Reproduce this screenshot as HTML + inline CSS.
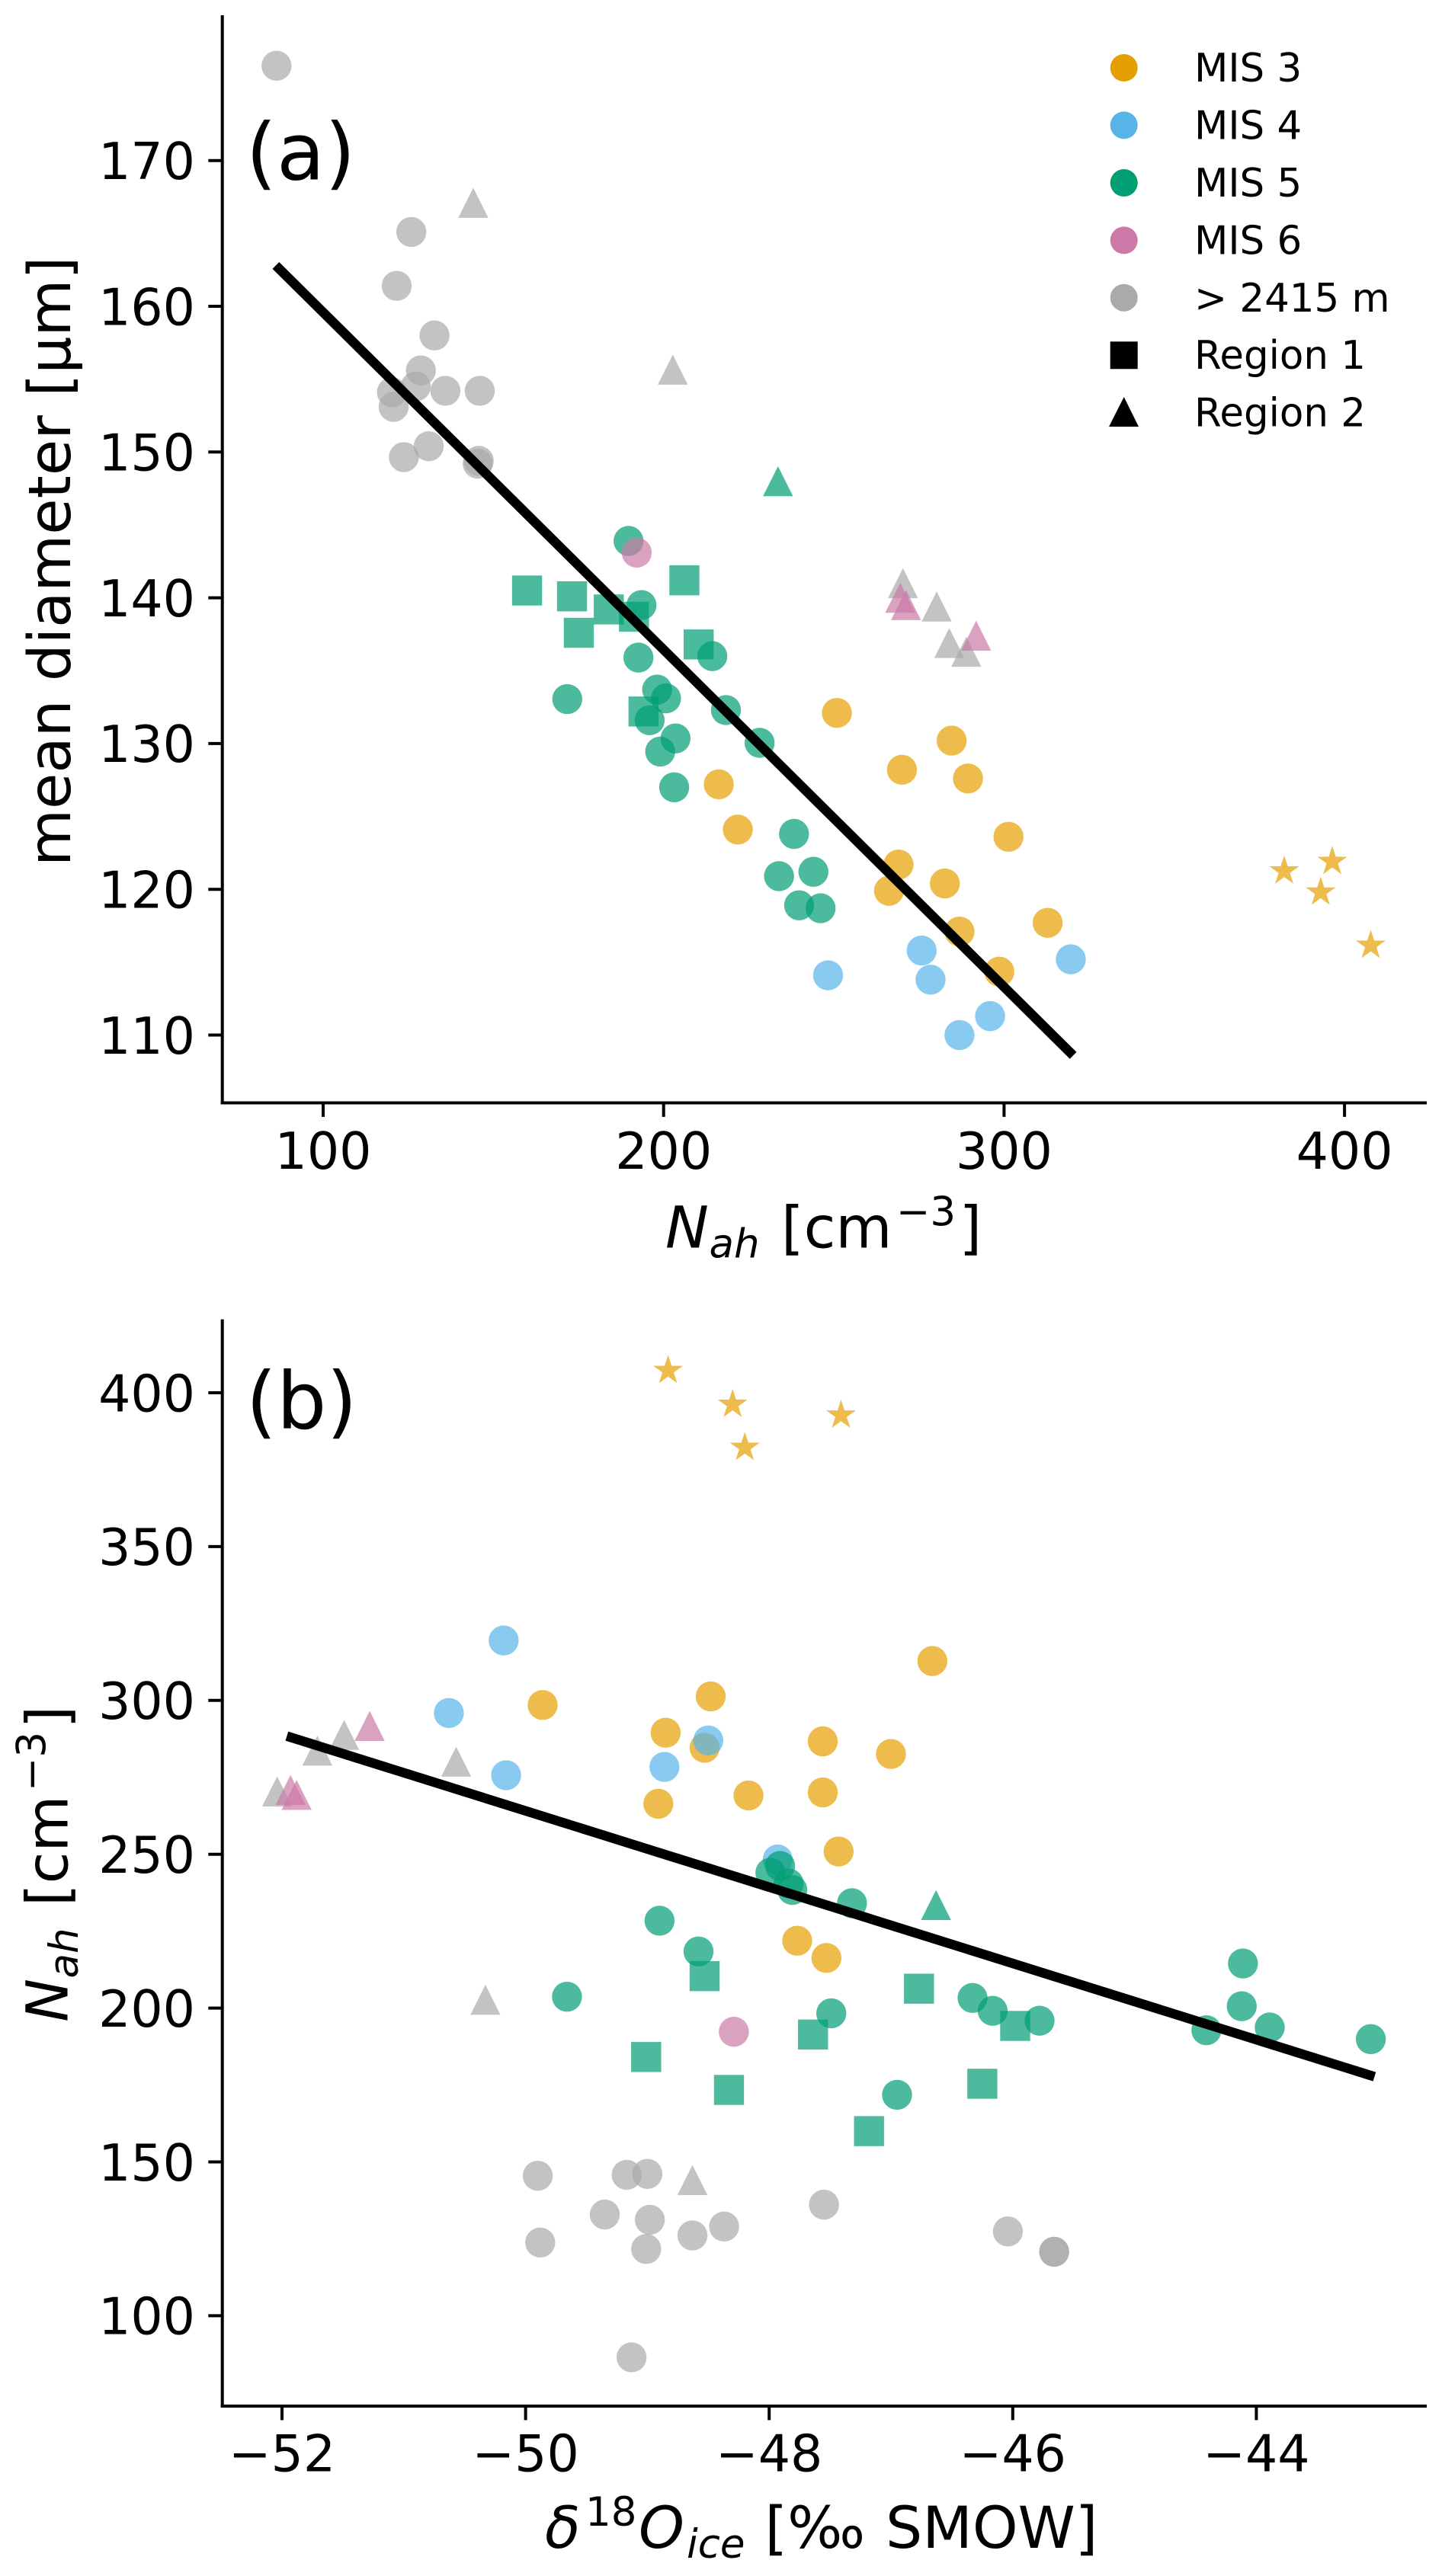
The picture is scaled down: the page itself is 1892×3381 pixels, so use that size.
<!DOCTYPE html>
<html lang="en">
<head>
<meta charset="utf-8">
<title>Mean diameter and Nah scatter plots</title>
<style>
html,body{margin:0;padding:0;background:#fff;}
svg{display:block;}
text{font-family:"DejaVu Sans","Liberation Sans",sans-serif;fill:#000;}
.it{font-style:italic;}
</style>
</head>
<body>
<svg id="figure" xmlns="http://www.w3.org/2000/svg" width="1892" height="3381" viewBox="0 0 1892 3381">
  <rect width="1892" height="3381" fill="#fff"/>
  <g id="panel-a"></g>
  <g id="panel-b"></g>

  <text x="322.8" y="235.5" font-size="103">(a)</text>
  <text x="322.8" y="1874.5" font-size="103">(b)</text>

  <text font-size="77" transform="translate(92,1137) rotate(-90)" x="0" y="0">mean diameter [µm]</text>

  <g font-size="76">
    <text class="it" x="873" y="1637.3">N</text>
    <text class="it" x="930.5" y="1650.7" font-size="53">ah</text>
    <text x="1025" y="1637.3">[cm</text>
    <text x="1176" y="1608.3" font-size="53">−3</text>
    <text x="1258.5" y="1637.3">]</text>
  </g>

  <g font-size="76" transform="translate(88.5,2652) rotate(-90)">
    <text class="it" x="-1.7" y="0">N</text>
    <text class="it" x="55.5" y="13.4" font-size="53">ah</text>
    <text x="150" y="0">[cm</text>
    <text x="301" y="-29" font-size="53">−3</text>
    <text x="383.5" y="0">]</text>
  </g>

  <g font-size="76">
    <text class="it" x="715" y="3344">δ</text>
    <text x="768" y="3315" font-size="53">18</text>
    <text class="it" x="838" y="3344">O</text>
    <text class="it" x="901" y="3357" font-size="53">ice</text>
    <text x="1003.5" y="3344">[‰</text>
    <text x="1162" y="3344">SMOW]</text>
  </g>

  <g font-size="51.4">
    <g><circle cx="1474.7" cy="89" r="18" fill="#E69F00"/><text x="1567" y="107">MIS 3</text></g>
    <g><circle cx="1474.7" cy="164.4" r="18" fill="#56B4E9"/><text x="1567" y="182.4">MIS 4</text></g>
    <g><circle cx="1474.7" cy="240" r="18" fill="#009E73"/><text x="1567" y="258">MIS 5</text></g>
    <g><circle cx="1474.7" cy="315.4" r="18" fill="#CC79A7"/><text x="1567" y="333.4">MIS 6</text></g>
    <g><circle cx="1474.7" cy="390.7" r="18" fill="#AAAAAA"/><text x="1567" y="409">&gt; 2415 m</text></g>
    <g><rect x="1456.7" y="448.3" width="36" height="36" fill="#000"/><text x="1567" y="484">Region 1</text></g>
    <g><path d="M1474.7 521 L1494 560 L1455 560 Z" fill="#000"/><text x="1567" y="559.3">Region 2</text></g>
  </g>
</svg>

<script>
// ---- tick values ----
const aXTicks = [100, 200, 300, 400];
const aYTicks = [110, 120, 130, 140, 150, 160, 170];
const bXTicks = [-52, -50, -48, -46, -44];
const bYTicks = [100, 150, 200, 250, 300, 350, 400];

// ---- panel (a): [Nah, mean diameter] ----
const aMis3Circles = [[216.2,127.2],[221.8,124.1],[250.9,132.1],[284.6,130.2],[270.0,128.2],[289.4,127.6],[301.3,123.6],[269.0,121.7],[282.6,120.4],[266.2,119.9],[286.9,117.1],[312.8,117.7],[298.6,114.35]];
const aMis3Stars = [[382.3,121.25],[396.4,121.9],[393.0,119.8],[407.7,116.15]];
const aMis4Circles = [[319.6,115.2],[275.8,115.8],[248.3,114.1],[278.4,113.8],[295.9,111.3],[286.9,110.0]];
const aMis5Circles = [[193.5,139.5],[189.7,143.9],[192.6,135.9],[214.3,136.0],[198.1,133.7],[200.7,133.1],[171.7,133.05],[218.3,132.3],[195.9,131.6],[203.5,130.35],[199.0,129.45],[228.2,130.05],[203.1,127.0],[238.3,123.8],[244.0,121.2],[233.9,120.9],[239.8,118.9],[246.1,118.7]];
const aMis5Squares = [[159.9,140.5],[173.1,140.1],[183.9,139.2],[191.3,138.7],[175.1,137.6],[206.1,141.2],[210.3,136.8],[194.1,132.2]];
const aMis5Triangles = [[233.6,148.0]];
const aMis6Circles = [[192.1,143.1]];
const aMis6Triangles = [[269.5,140.0],[271.2,139.5],[291.8,137.4]];
const aDeepCircles = [[86.3,176.5],[125.9,165.1],[121.6,161.4],[132.7,158.0],[128.7,155.6],[127.2,154.5],[120.2,154.1],[135.9,154.2],[146.0,154.2],[120.7,153.1],[131.0,150.4],[123.7,149.65],[145.7,149.4],[145.4,149.2]];
const aDeepTriangles = [[144.1,167.1],[202.7,155.65],[270.3,141.0],[280.2,139.4],[283.9,136.9],[288.9,136.3]];
const aFitLine = [[86.1,162.8],[320.3,108.6]];

// ---- panel (b): [delta18O, Nah] ----
const bMis3Circles = [[-49.86,298.5],[-48.85,289.5],[-48.48,301.3],[-48.53,284.6],[-48.91,266.4],[-48.17,269.1],[-47.56,286.7],[-47.0,282.6],[-46.66,312.8],[-47.56,270.1],[-47.43,250.9],[-47.77,221.9],[-47.53,216.3]];
const bMis3Stars = [[-48.83,407.2],[-48.30,396.2],[-48.2,382.2],[-47.41,392.7]];
const bMis4Circles = [[-50.18,319.5],[-50.63,295.9],[-50.16,275.7],[-48.86,278.4],[-48.50,287.0],[-47.93,248.3]];
const bMis5Circles = [[-48.9,228.4],[-48.58,218.4],[-47.99,244.0],[-47.91,246.2],[-47.84,240.5],[-47.81,238.4],[-47.32,234.1],[-44.11,214.5],[-49.66,203.7],[-46.33,203.3],[-46.165,199.1],[-45.78,195.9],[-47.49,198.3],[-46.95,171.8],[-44.12,200.6],[-44.41,192.8],[-43.89,193.7],[-43.06,189.9]];
const bMis5Squares = [[-48.53,210.4],[-49.01,184.1],[-48.33,173.4],[-46.77,206.3],[-45.98,194.2],[-47.64,191.4],[-46.25,175.4],[-47.18,160.0]];
const bMis5Triangles = [[-46.63,233.5]];
const bMis6Circles = [[-48.29,192.3]];
const bMis6Triangles = [[-51.93,270.9],[-51.88,269.3],[-51.28,291.7]];
const bDeepCircles = [[-49.9,145.5],[-49.17,145.8],[-49.0,146.1],[-49.35,132.9],[-48.98,131.2],[-48.37,129.0],[-48.63,126.1],[-49.01,121.7],[-49.88,123.8],[-49.13,86.5],[-47.55,136.1],[-46.04,127.4],[-45.66,120.8],[-45.66,120.8]];
const bDeepTriangles = [[-52.04,270.4],[-51.71,283.7],[-51.49,288.8],[-50.57,280.1],[-50.33,202.7],[-48.63,144.1]];
const bFitLine = [[-51.96,288.4],[-43.03,177.7]];

// ---- axis functions ----
const xA = v => 424 + (v - 100) * 4.467;
const yA = v => 210.7 + (170 - v) * 19.13;
const xB = v => 370 + (v + 52) * 159.8;
const yB = v => 1828 + (400 - v) * 4.038;

const SVG_NS = 'http://www.w3.org/2000/svg';
const C_MIS3 = '#E69F00', C_MIS4 = '#56B4E9', C_MIS5 = '#009E73', C_MIS6 = '#CC79A7', C_DEEP = '#A9A9A9';
const R = 19.7;

function starPath(cx, cy, r) {
  const pts = [];
  for (let i = 0; i < 10; i++) {
    const rad = i % 2 === 0 ? r : r * 0.381966;
    const a = -Math.PI / 2 + i * Math.PI / 5;
    pts.push((cx + rad * Math.cos(a)).toFixed(2) + ' ' + (cy + rad * Math.sin(a)).toFixed(2));
  }
  return 'M' + pts.join(' L') + ' Z';
}

function drawSeries(parent, points, shape, color, name, xf, yf) {
  points.forEach(function (p) {
    const cx = xf(p[0]);
    const cy = yf(p[1]);
    let el;
    if (shape === 'circle') {
      el = document.createElementNS(SVG_NS, 'circle');
      el.setAttribute('cx', cx);
      el.setAttribute('cy', cy);
      el.setAttribute('r', R);
    } else if (shape === 'square') {
      el = document.createElementNS(SVG_NS, 'rect');
      el.setAttribute('x', cx - R);
      el.setAttribute('y', cy - R);
      el.setAttribute('width', 2 * R);
      el.setAttribute('height', 2 * R);
    } else if (shape === 'triangle') {
      el = document.createElementNS(SVG_NS, 'path');
      el.setAttribute('d', 'M' + cx + ' ' + (cy - R) + ' L' + (cx + R) + ' ' + (cy + R) + ' L' + (cx - R) + ' ' + (cy + R) + ' Z');
    } else {
      el = document.createElementNS(SVG_NS, 'path');
      el.setAttribute('d', starPath(cx, cy, 20.5));
    }
    el.setAttribute('fill', color);
    el.setAttribute('fill-opacity', '0.7');
    
    
    parent.appendChild(el);
  });
}

function drawLine(parent, x1, y1, x2, y2, width, name) {
  const ln = document.createElementNS(SVG_NS, 'line');
  ln.setAttribute('x1', x1);
  ln.setAttribute('y1', y1);
  ln.setAttribute('x2', x2);
  ln.setAttribute('y2', y2);
  ln.setAttribute('stroke', '#000');
  ln.setAttribute('stroke-width', width);
  
  
  parent.appendChild(ln);
}

function drawLabel(parent, x, y, str, anchor, name) {
  const t = document.createElementNS(SVG_NS, 'text');
  t.setAttribute('x', x);
  t.setAttribute('y', y);
  t.setAttribute('font-size', '66.5');
  t.setAttribute('text-anchor', anchor);
  t.textContent = str;
  
  
  parent.appendChild(t);
}

function drawAxes(parent, cfg) {
  drawLine(parent, cfg.left, cfg.top, cfg.left, cfg.bottom + 2, 4, 'y-axis-spine');
  drawLine(parent, cfg.left - 2, cfg.bottom, cfg.right, cfg.bottom, 4, 'x-axis-spine');
  cfg.xTicks.forEach(function (v) {
    drawLine(parent, cfg.xf(v), cfg.bottom, cfg.xf(v), cfg.bottom + 18.4, 4, 'x-tick');
    drawLabel(parent, cfg.xf(v), cfg.xBase, String(v).replace('-', '\u2212'), 'middle', 'x-tick-label');
  });
  cfg.yTicks.forEach(function (v) {
    drawLine(parent, cfg.left - 18.4, cfg.yf(v), cfg.left, cfg.yf(v), 4, 'y-tick');
    drawLabel(parent, 256, cfg.yf(v) + 24.3, String(v), 'end', 'y-tick-label');
  });
}

const gA = document.getElementById('panel-a');
const gB = document.getElementById('panel-b');

drawSeries(gA, aMis3Circles, 'circle', C_MIS3, 'mis3-point', xA, yA);
drawSeries(gA, aMis3Stars, 'star', C_MIS3, 'mis3-star', xA, yA);
drawSeries(gA, aMis4Circles, 'circle', C_MIS4, 'mis4-point', xA, yA);
drawSeries(gA, aMis5Circles, 'circle', C_MIS5, 'mis5-point', xA, yA);
drawSeries(gA, aMis5Squares, 'square', C_MIS5, 'mis5-region1-point', xA, yA);
drawSeries(gA, aMis5Triangles, 'triangle', C_MIS5, 'mis5-region2-point', xA, yA);
drawSeries(gA, aDeepCircles, 'circle', C_DEEP, 'deep-point', xA, yA);
drawSeries(gA, aDeepTriangles, 'triangle', C_DEEP, 'deep-region2-point', xA, yA);
drawSeries(gA, aMis6Circles, 'circle', C_MIS6, 'mis6-point', xA, yA);
drawSeries(gA, aMis6Triangles, 'triangle', C_MIS6, 'mis6-region2-point', xA, yA);
drawLine(gA, xA(aFitLine[0][0]), yA(aFitLine[0][1]), xA(aFitLine[1][0]), yA(aFitLine[1][1]), 12.5, 'regression-line-a');
drawAxes(gA, {left: 291.7, right: 1872, top: 20, bottom: 1447.5, xBase: 1534, xTicks: aXTicks, yTicks: aYTicks, xf: xA, yf: yA});

drawSeries(gB, bMis3Circles, 'circle', C_MIS3, 'mis3-point', xB, yB);
drawSeries(gB, bMis3Stars, 'star', C_MIS3, 'mis3-star', xB, yB);
drawSeries(gB, bMis4Circles, 'circle', C_MIS4, 'mis4-point', xB, yB);
drawSeries(gB, bMis5Circles, 'circle', C_MIS5, 'mis5-point', xB, yB);
drawSeries(gB, bMis5Squares, 'square', C_MIS5, 'mis5-region1-point', xB, yB);
drawSeries(gB, bMis5Triangles, 'triangle', C_MIS5, 'mis5-region2-point', xB, yB);
drawSeries(gB, bDeepCircles, 'circle', C_DEEP, 'deep-point', xB, yB);
drawSeries(gB, bDeepTriangles, 'triangle', C_DEEP, 'deep-region2-point', xB, yB);
drawSeries(gB, bMis6Circles, 'circle', C_MIS6, 'mis6-point', xB, yB);
drawSeries(gB, bMis6Triangles, 'triangle', C_MIS6, 'mis6-region2-point', xB, yB);
drawLine(gB, xB(bFitLine[0][0]), yB(bFitLine[0][1]), xB(bFitLine[1][0]), yB(bFitLine[1][1]), 12.5, 'regression-line-b');
drawAxes(gB, {left: 291.7, right: 1872, top: 1731.6, bottom: 3158, xBase: 3243.5, xTicks: bXTicks, yTicks: bYTicks, xf: xB, yf: yB});
</script>
</body>
</html>
